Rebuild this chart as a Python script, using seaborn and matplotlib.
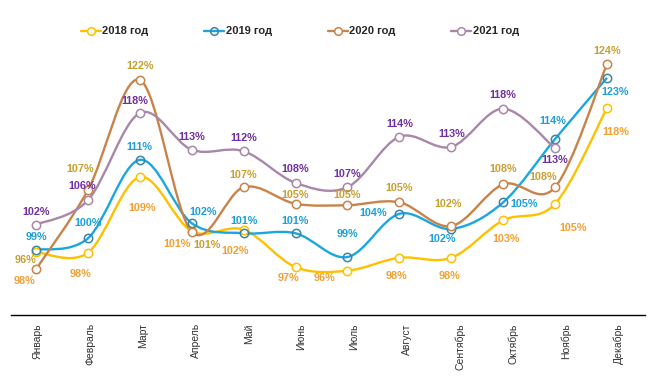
import numpy as np
import pandas as pd
import matplotlib.pyplot as plt
import seaborn as sns
from matplotlib.path import Path
from matplotlib.patches import PathPatch
from matplotlib.lines import Line2D

months = ['Январь', 'Февраль', 'Март', 'Апрель', 'Май', 'Июнь', 'Июль',
          'Август', 'Сентябрь', 'Октябрь', 'Ноябрь', 'Декабрь']
years = ['2018 год', '2019 год', '2020 год', '2021 год']

# values as drawn (labels are rounded in the source)
v2018 = [98.0, 97.9, 108.4, 100.9, 101.1, 95.9, 95.4, 97.2, 97.2, 102.4, 104.7, 118.0]
v2019 = [98.3, 99.9, 110.8, 102.0, 100.6, 100.6, 97.3, 103.3, 101.2, 104.9, 113.7, 122.2]
v2020 = [95.6, 106.6, 121.9, 100.8, 107.0, 104.7, 104.5, 104.9, 101.6, 107.4, 107.0, 124.1]
v2021 = [101.8, 105.2, 117.3, 112.2, 112.0, 107.6, 107.0, 114.0, 112.6, 117.9, 112.4, np.nan]

l2018 = ['98%', '98%', '109%', '101%', '102%', '97%', '96%', '98%', '98%', '103%', '105%', '118%']
l2019 = ['99%', '100%', '111%', '102%', '101%', '101%', '99%', '104%', '102%', '105%', '114%', '123%']
l2020 = ['96%', '107%', '122%', '101%', '107%', '105%', '105%', '105%', '102%', '108%', '108%', '124%']
l2021 = ['102%', '106%', '118%', '113%', '112%', '108%', '107%', '114%', '113%', '118%', '113%']

# label offsets in pixels (dx, dy downwards)
o2018 = [(-12, 29), (-7, 21), (2, 31), (-15, 13), (-9, 21), (-7, 11), (-23, 7),
         (-3, 18), (-2, 18), (3, 19), (18, 24), (9, 24)]
o2019 = [(0, -13), (0, -15), (0, -13), (11, -11), (0, -12), (0, -12), (0, -23),
         (-26, -1), (-9, 10), (21, 2), (-2, -18), (8, 14)]
o2020 = [(-11, -9), (-8, -21), (0, -14), (15, 13), (0, -12), (0, -9), (0, -10),
         (0, -14), (-3, -22), (0, -15), (-12, -10), (0, -13)]
o2021 = [(0, -13), (-6, -14), (-5, -12), (0, -13), (0, -13), (0, -14), (0, -13),
         (0, -13), (0, -13), (0, -14), (0, 12)]

line_colors = ['#FFC000', '#1AA7E0', '#C8834A', '#A987A9']
label_colors = ['#F2A032', '#1E9FD8', '#C9A030', '#7030A0']
edge_colors = ['#FFC000', '#3C84A6', '#C8834A', '#A987A9']

series = [v2018, v2019, v2020, v2021]
labels = [l2018, l2019, l2020, l2021]
offsets = [o2018, o2019, o2020, o2021]

rows = []
for yr, vals in zip(years, series):
    for i, v in enumerate(vals):
        rows.append({'year': yr, 'pos': i, 'value': v})
df = pd.DataFrame(rows).dropna()

sns.set_style('white')
plt.rcParams['font.family'] = ['Liberation Sans', 'DejaVu Sans']


def smooth_path(xs, ys):
    # Excel-like smoothed line: cubic bezier with catmull-rom control points
    pts = np.column_stack([xs, ys])
    n = len(pts)
    verts = [pts[0]]
    codes = [Path.MOVETO]
    for i in range(n - 1):
        p0 = pts[i - 1] if i > 0 else pts[i]
        p1 = pts[i]
        p2 = pts[i + 1]
        p3 = pts[i + 2] if i + 2 < n else pts[i + 1]
        c1 = p1 + (p2 - p0) / 6
        c2 = p2 - (p3 - p1) / 6
        verts += [c1, c2, p2]
        codes += [Path.CURVE4] * 3
    return Path(verts, codes)


fig = plt.figure(figsize=(6.56, 3.8), dpi=100)
pos = [11 / 656, 65 / 380, 634 / 656, 270 / 380]
ax = fig.add_axes(pos)

for k, yr in enumerate(years):
    d = df[df['year'] == yr]
    ax.add_patch(PathPatch(smooth_path(d['pos'].values, d['value'].values),
                           facecolor='none', edgecolor=line_colors[k], lw=1.7,
                           zorder=2 + k))
    sns.lineplot(data=d, x='pos', y='value', ax=ax, color=line_colors[k],
                 marker='o', linestyle='none', markersize=6,
                 markerfacecolor='none' if k == 1 else 'white',
                 markeredgecolor=edge_colors[k], markeredgewidth=1.1,
                 zorder=6 + k)
    for i, (txt, (dx, dy)) in enumerate(zip(labels[k], offsets[k])):
        ax.annotate(txt, (i, series[k][i]), xytext=(dx, -dy),
                    textcoords='offset pixels', ha='center', va='center',
                    fontsize=7.8, fontweight='bold', color=label_colors[k],
                    zorder=12)

ax.set_xlim(-25 / 51.9, 11 + 38 / 51.9)
ax.set_ylim(89.25, 126.75)
ax.set_xticks([])
ax.set_yticks([])
ax.set_xlabel('')
ax.set_ylabel('')
for s in ax.spines.values():
    s.set_visible(False)

# category axis
axc = fig.add_axes(pos, facecolor='none')
axc.set_xlim(-0.5, 11.5)
axc.set_yticks([])
for s in ['top', 'left', 'right']:
    axc.spines[s].set_visible(False)
axc.spines['bottom'].set_color('black')
axc.spines['bottom'].set_linewidth(1.0)
axc.set_xticks(np.arange(len(months)))
axc.set_xticklabels(months, rotation=90, fontsize=7.5, color='#333333')
axc.tick_params(axis='x', length=0, pad=6)
axc.set_xticks(np.arange(-0.5, 12, 1), minor=True)
axc.tick_params(axis='x', which='minor', length=4, width=0.8, color='black')
axc.set_zorder(0)
ax.set_zorder(1)
ax.patch.set_visible(False)

handles = [Line2D([0], [0], color=line_colors[k], lw=1.7, marker='o', markersize=5.5,
                  markerfacecolor='none' if k == 1 else 'white',
                  markeredgecolor=edge_colors[k], markeredgewidth=1.1)
           for k in range(4)]
leg = fig.legend(handles, years, loc='center', bbox_to_anchor=(300 / 656, 1 - 31.5 / 380),
                 ncol=4, frameon=False, handlelength=1.8, handletextpad=0.15,
                 columnspacing=5.0, prop={'weight': 'bold', 'size': 8})

fig.savefig('out.png', dpi=100)
